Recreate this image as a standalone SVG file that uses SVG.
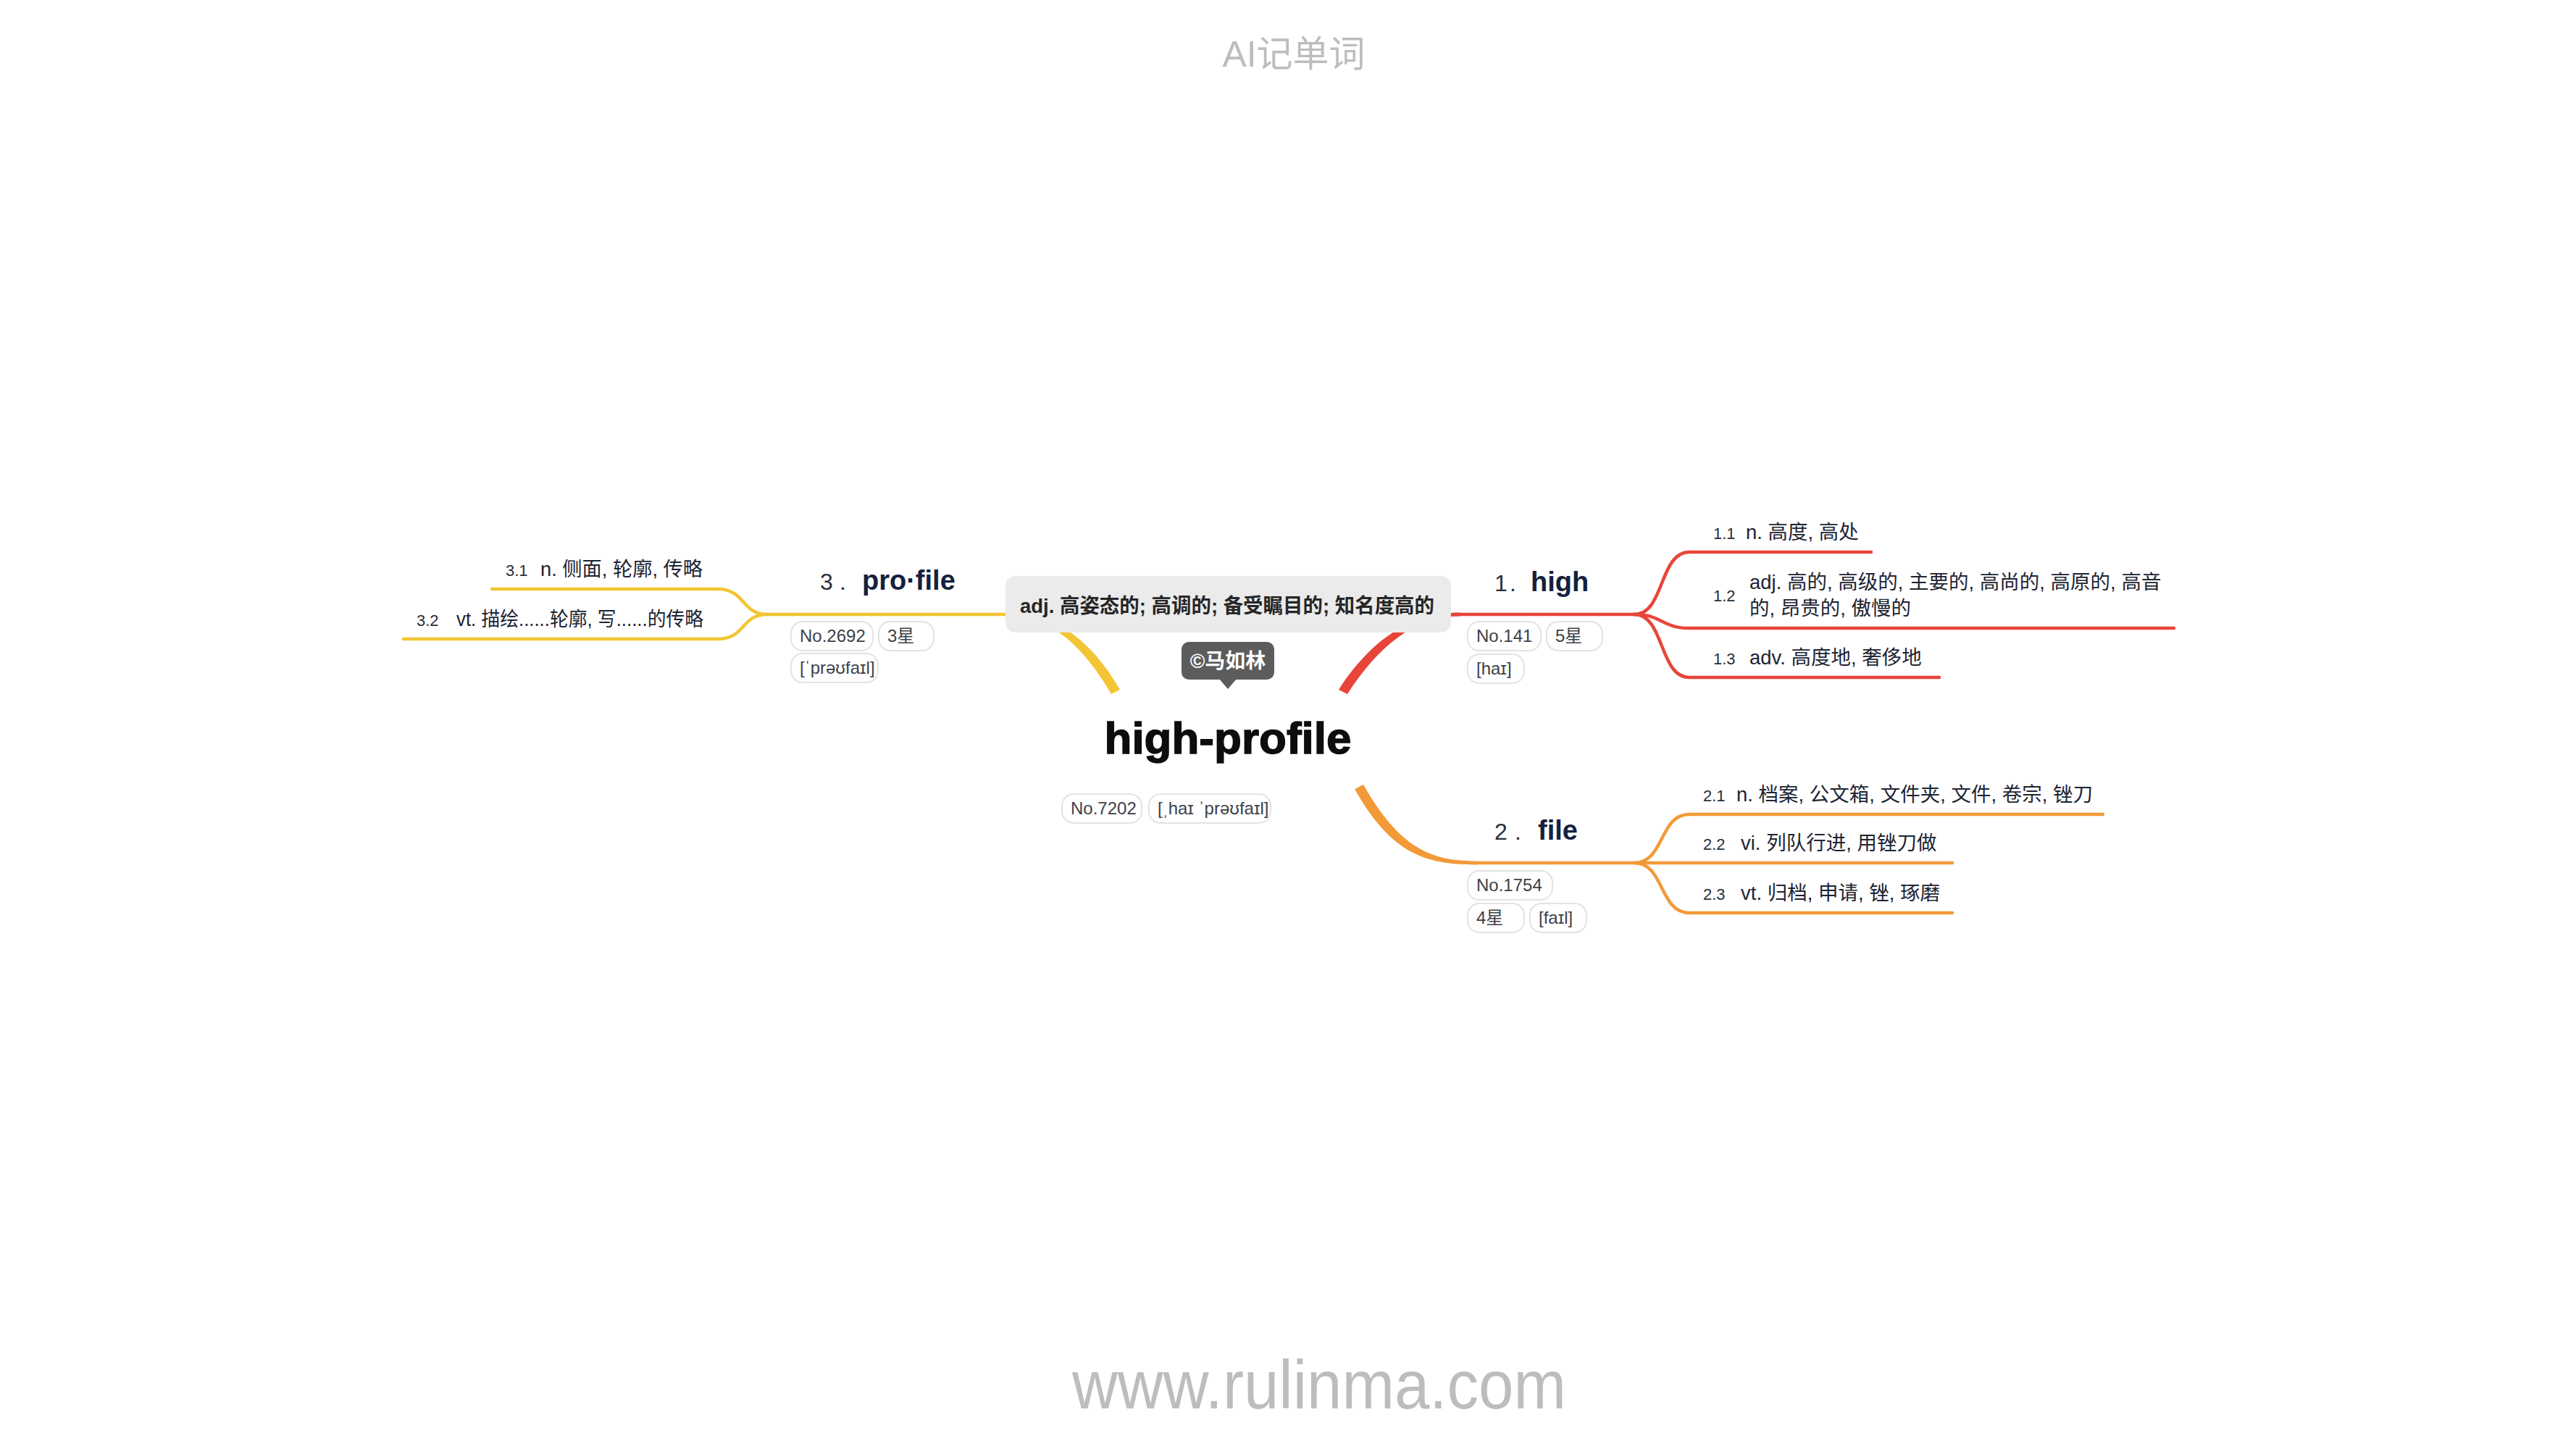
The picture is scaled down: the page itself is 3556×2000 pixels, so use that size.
<svg xmlns="http://www.w3.org/2000/svg" width="3556" height="2000" viewBox="0 0 3556 2000">
<style>
.wm{font-family:"Liberation Sans","Noto Sans CJK SC",sans-serif;fill:#bdbdbd}
.sub{font-family:"Liberation Sans","Noto Sans CJK SC",sans-serif;font-size:27.5px;fill:#1d2433}
.num{font-family:"Liberation Sans",sans-serif;font-size:22px;fill:#2a2f38}
.ord{font-family:"Liberation Sans",sans-serif;font-size:32px;fill:#2a2f38}
.bt{font-family:"Liberation Sans",sans-serif;font-size:38px;font-weight:bold;fill:#14213d}
.tag rect{fill:#fff;stroke:#e3e3e3;stroke-width:2}
.tag text{font-family:"Liberation Sans","Noto Sans CJK SC",sans-serif;font-size:24px;fill:#3d4149}
.y{stroke:#f3c534}
.r{stroke:#e8453a}
.o{stroke:#f29a38}
.ln{fill:none;stroke-width:4.5;stroke-linecap:round}
</style>

<text class="wm" x="1786" y="92" font-size="50" text-anchor="middle">AI记单词</text>
<text class="wm" x="1821" y="1944" font-size="94" text-anchor="middle" textLength="682" lengthAdjust="spacingAndGlyphs">www.rulinma.com</text>

<g id="connectors">
  <!-- trunk curves -->
  <path d="M1546,952 C1508,887 1460,845.5 1390,845.5 L1390,850.5 C1452,850.5 1496,893 1534,958 Z" fill="#f3c534"/>
  <path d="M1848,952 C1890,887 1944,845.5 2015,845.5 L2015,850.5 C1952,850.5 1902,893 1860,958 Z" fill="#e8453a"/>
  <path d="M1882,1083 C1934,1174 1978,1188.5 2040,1188.5 L2040,1193.5 C1972,1193.5 1922,1182 1870,1089 Z" fill="#f29a38"/>
  <!-- yellow -->
  <path class="ln y" d="M1395,848 H1060"/>
  <path class="ln y" d="M1060,848 C1022,848 1030,813 990,813 H679"/>
  <path class="ln y" d="M1060,848 C1022,848 1030,882 990,882 H557"/>
  <!-- red -->
  <path class="ln r" d="M2010,848 H2256"/>
  <path class="ln r" d="M2256,848 C2298,848 2290,762 2332,762 H2583"/>
  <path class="ln r" d="M2256,848 C2294,848 2294,867 2332,867 H3001"/>
  <path class="ln r" d="M2256,848 C2298,848 2290,935 2332,935 H2677"/>
  <!-- orange -->
  <path class="ln o" d="M2040,1191 H2256"/>
  <path class="ln o" d="M2256,1191 C2298,1191 2290,1124 2332,1124 H2903"/>
  <path class="ln o" d="M2256,1191 H2695"/>
  <path class="ln o" d="M2256,1191 C2298,1191 2290,1260 2332,1260 H2695"/>
</g>

<g id="definition">
  <rect x="1388" y="795" width="615" height="78" rx="14" fill="#ebebeb"/>
  <text x="1408" y="846" font-family="'Liberation Sans','Noto Sans CJK SC',sans-serif" font-size="28" font-weight="bold" fill="#262626" textLength="572" lengthAdjust="spacingAndGlyphs">adj. 高姿态的; 高调的; 备受瞩目的; 知名度高的</text>
</g>

<g id="copyright">
  <rect x="1631" y="886" width="128" height="52" rx="10" fill="#5c5c5c"/>
  <path d="M1683,937 L1707,937 L1695,951 Z" fill="#5c5c5c"/>
  <text x="1695" y="922" text-anchor="middle" font-family="'Liberation Sans','Noto Sans CJK SC',sans-serif" font-size="28" font-weight="bold" fill="#fff">©马如林</text>
</g>

<g id="center">
  <text x="1695" y="1040" text-anchor="middle" font-family="'Liberation Sans',sans-serif" font-size="62" font-weight="bold" fill="#0d0d0d" stroke="#0d0d0d" stroke-width="1.4">high-profile</text>
  <g class="tag"><rect x="1466" y="1096" width="110" height="40" rx="16"/><text x="1478" y="1124">No.7202</text></g>
  <g class="tag"><rect x="1586" y="1096" width="168" height="40" rx="16"/><text x="1598" y="1124">[ˌhaɪ ˈprəʊfaɪl]</text></g>
</g>

<g id="branch-3">
  <text><tspan class="ord" x="1132" y="814">3</tspan><tspan class="ord" x="1159" y="814">.</tspan><tspan class="bt" x="1190" y="814">pro·file</tspan></text>
  <g class="tag"><rect x="1092" y="858" width="113" height="40" rx="16"/><text x="1104" y="886">No.2692</text></g>
  <g class="tag"><rect x="1213" y="858" width="76" height="40" rx="16"/><text x="1225" y="886">3星</text></g>
  <g class="tag"><rect x="1092" y="902" width="120" height="40" rx="16"/><text x="1104" y="930">[ˈprəʊfaɪl]</text></g>
</g>
<g id="sense-3-1"><text class="num" x="698" y="795">3.1</text><text class="sub" x="746" y="795" textLength="224" lengthAdjust="spacingAndGlyphs">n. 侧面, 轮廓, 传略</text></g>
<g id="sense-3-2"><text class="num" x="575" y="864">3.2</text><text class="sub" x="630" y="864" textLength="341" lengthAdjust="spacingAndGlyphs">vt. 描绘......轮廓, 写......的传略</text></g>

<g id="branch-1">
  <text><tspan class="ord" x="2063" y="816">1</tspan><tspan class="ord" x="2084" y="816">.</tspan><tspan class="bt" x="2113" y="816">high</tspan></text>
  <g class="tag"><rect x="2026" y="858" width="101" height="40" rx="16"/><text x="2038" y="886">No.141</text></g>
  <g class="tag"><rect x="2135" y="858" width="77" height="40" rx="16"/><text x="2147" y="886">5星</text></g>
  <g class="tag"><rect x="2026" y="903" width="78" height="40" rx="16"/><text x="2038" y="931">[haɪ]</text></g>
</g>
<g id="sense-1-1"><text class="num" x="2365" y="744">1.1</text><text class="sub" x="2410" y="744">n. 高度, 高处</text></g>
<g id="sense-1-2"><text class="num" x="2365" y="830">1.2</text><text class="sub" x="2415" y="813">adj. 高的, 高级的, 主要的, 高尚的, 高原的, 高音</text><text class="sub" x="2415" y="849">的, 昂贵的, 傲慢的</text></g>
<g id="sense-1-3"><text class="num" x="2365" y="917">1.3</text><text class="sub" x="2415" y="917">adv. 高度地, 奢侈地</text></g>

<g id="branch-2">
  <text><tspan class="ord" x="2063" y="1159">2</tspan><tspan class="ord" x="2091" y="1159">.</tspan><tspan class="bt" x="2123" y="1159">file</tspan></text>
  <g class="tag"><rect x="2026" y="1202" width="117" height="40" rx="16"/><text x="2038" y="1230">No.1754</text></g>
  <g class="tag"><rect x="2026" y="1247" width="78" height="40" rx="16"/><text x="2038" y="1275">4星</text></g>
  <g class="tag"><rect x="2112" y="1247" width="78" height="40" rx="16"/><text x="2124" y="1275">[faɪl]</text></g>
</g>
<g id="sense-2-1"><text class="num" x="2351" y="1106">2.1</text><text class="sub" x="2397" y="1106">n. 档案, 公文箱, 文件夹, 文件, 卷宗, 锉刀</text></g>
<g id="sense-2-2"><text class="num" x="2351" y="1173">2.2</text><text class="sub" x="2403" y="1173">vi. 列队行进, 用锉刀做</text></g>
<g id="sense-2-3"><text class="num" x="2351" y="1242">2.3</text><text class="sub" x="2403" y="1242">vt. 归档, 申请, 锉, 琢磨</text></g>
</svg>
